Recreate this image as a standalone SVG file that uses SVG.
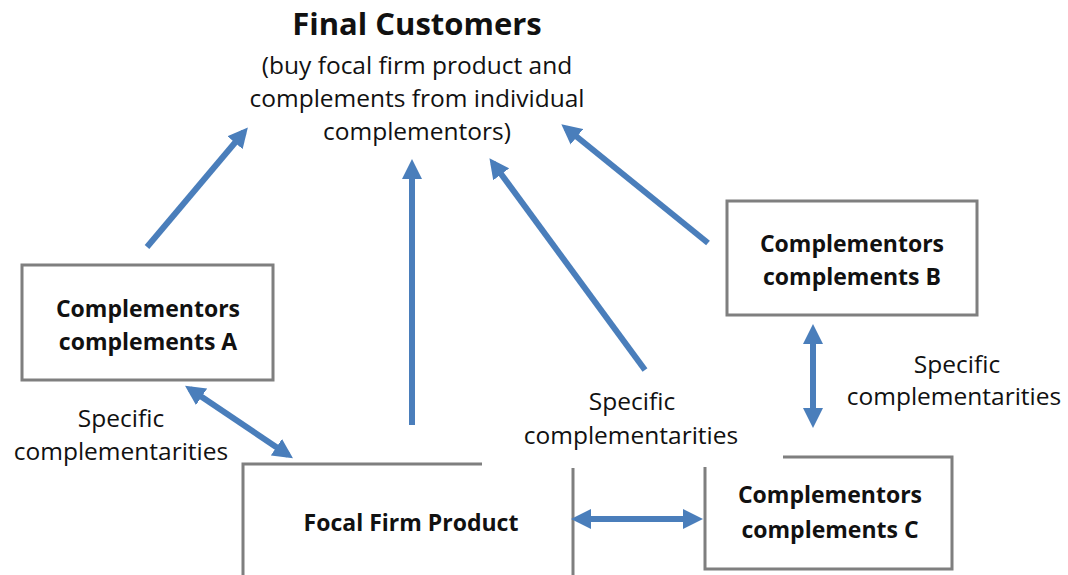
<svg xmlns="http://www.w3.org/2000/svg" width="1068" height="575" viewBox="0 0 1068 575">
  <defs>
    <marker id="head" viewBox="0 0 20 20" markerWidth="20" markerHeight="20" refX="14" refY="10" orient="auto-start-reverse" markerUnits="userSpaceOnUse">
      <path d="M0,0 L20,10 L0,20 z" fill="#4a7ebb"/>
    </marker>
    <style>
      .box { fill: none; stroke: #7f7f7f; stroke-width: 3; }
      .conn { stroke: #4a7ebb; stroke-width: 6; fill: none; }
      .one { marker-end: url(#head); }
      .two { marker-start: url(#head); marker-end: url(#head); }
      text { font-family: "Open Sans", "Noto Sans", sans-serif; fill: #111; text-anchor: middle; }
      .title { font-size: 31px; font-weight: bold; }
      .sub { font-size: 24.5px; }
      .node { font-size: 23px; font-weight: bold; }
      .lbl { font-size: 24.5px; }
    </style>
  </defs>
  <rect width="1068" height="575" fill="#fff"/>

  <g id="final-customers">
    <text class="title" x="417" y="35">Final Customers</text>
    <text class="sub" x="417" y="74">(buy focal firm product and</text>
    <text class="sub" x="417" y="107">complements from individual</text>
    <text class="sub" x="417" y="140">complementors)</text>
  </g>

  <g id="complements-a">
    <rect class="box" x="22" y="265" width="251" height="115"/>
    <text class="node" x="148" y="317">Complementors</text>
    <text class="node" x="148" y="350">complements A</text>
  </g>

  <g id="complements-b">
    <rect class="box" x="727" y="201" width="250" height="114"/>
    <text class="node" x="852" y="252">Complementors</text>
    <text class="node" x="852" y="285">complements B</text>
  </g>

  <g id="complements-c">
    <path class="box" d="M705,467 V569 H952 V457 H783"/>
    <text class="node" x="830" y="503">Complementors</text>
    <text class="node" x="830" y="538">complements C</text>
  </g>

  <g id="focal-firm">
    <path class="box" d="M243,577 V464 H482"/>
    <path class="box" d="M573,468 V577"/>
    <text class="node" x="411" y="531">Focal Firm Product</text>
  </g>

  <g id="labels">
    <text class="lbl" x="121" y="427">Specific</text>
    <text class="lbl" x="121" y="460">complementarities</text>
    <text class="lbl" x="632" y="410">Specific</text>
    <text class="lbl" x="631" y="444">complementarities</text>
    <text class="lbl" x="957" y="373">Specific</text>
    <text class="lbl" x="954" y="405">complementarities</text>
  </g>

  <g id="connectors">
    <line class="conn one" x1="147" y1="247" x2="244" y2="132"/>
    <line class="conn one" x1="412" y1="425" x2="412" y2="165"/>
    <line class="conn one" x1="645" y1="370" x2="493" y2="163"/>
    <line class="conn one" x1="708" y1="243" x2="566" y2="128"/>
    <line class="conn two" x1="190" y1="389" x2="288" y2="455"/>
    <line class="conn two" x1="813" y1="330" x2="813" y2="422"/>
    <line class="conn two" x1="577" y1="519" x2="697" y2="519"/>
  </g>
</svg>
